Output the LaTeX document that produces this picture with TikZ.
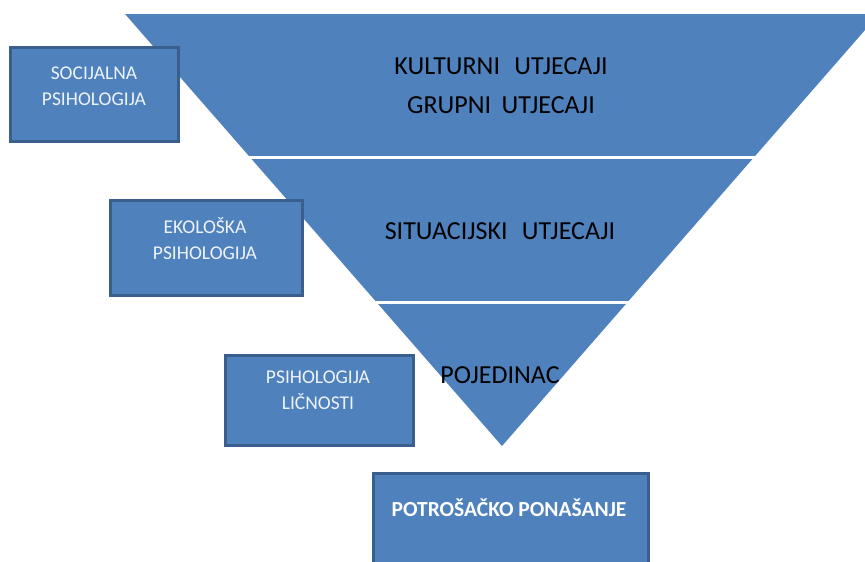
\documentclass[tikz,border=0pt]{standalone}
\usepackage{fontspec}
\setmainfont{Carlito}
\definecolor{tri}{HTML}{4F81BD}
\definecolor{edge}{HTML}{3A5F8C}
\definecolor{boxtxt}{HTML}{EEF3FA}
\tikzset{
  pbox/.style={draw=edge, fill=tri, line width=3pt, inner sep=0pt},
  ptext/.style={text=boxtxt, align=center, font=\fontsize{19.5}{26}\selectfont, inner sep=0pt},
  ttext/.style={text=black, font=\fontsize{26}{30}\selectfont, inner sep=0pt},
  gap/.style={draw=white, line width=3.5pt}
}
\begin{document}
\begin{tikzpicture}[x=1pt,y=-1pt]
\useasboundingbox (0,0) rectangle (865,562);
\begin{scope}
\clip (0,0) rectangle (865,562);
% inverted triangle
\fill[tri] (125,14) -- (879,14) -- (502,446) -- cycle;
\draw[gap] (200,157.5) -- (800,157.5);
\draw[gap] (330,302.5) -- (680,302.5);
% boxes
\node[pbox, minimum width=168pt, minimum height=94pt] (soc) at (94,94) {};
\node[pbox, minimum width=192pt, minimum height=95pt] (eko) at (206,247.5) {};
\node[pbox, minimum width=188pt, minimum height=90pt] (lic) at (319,400) {};
\node[pbox, minimum width=275pt, minimum height=120pt] (pot) at (510.5,533) {};
\end{scope}
% box texts
\node[ptext] (soct) at (94,86) {SOCIJALNA\\PSIHOLOGIJA};
\node[ptext] (ekot) at (205,238.5) {EKOLOŠKA\\PSIHOLOGIJA};
\node[ptext] (lict) at (318,390.5) {PSIHOLOGIJA\\LIČNOSTI};
\node[text=white, inner sep=0pt, font=\fontsize{21.5}{24}\selectfont\bfseries] (pott) at (509,508) {POTROŠAČKO PONAŠANJE};
% triangle texts
\node[ttext] (kult) at (501,66) {KULTURNI\hspace{0.55em}UTJECAJI};
\node[ttext] (grup) at (501,105) {GRUPNI\hspace{0.4em}UTJECAJI};
\node[ttext] (sit) at (500,231) {SITUACIJSKI\hspace{0.55em}UTJECAJI};
\node[ttext] (poj) at (500,375) {POJEDINAC};
\end{tikzpicture}
\end{document}
